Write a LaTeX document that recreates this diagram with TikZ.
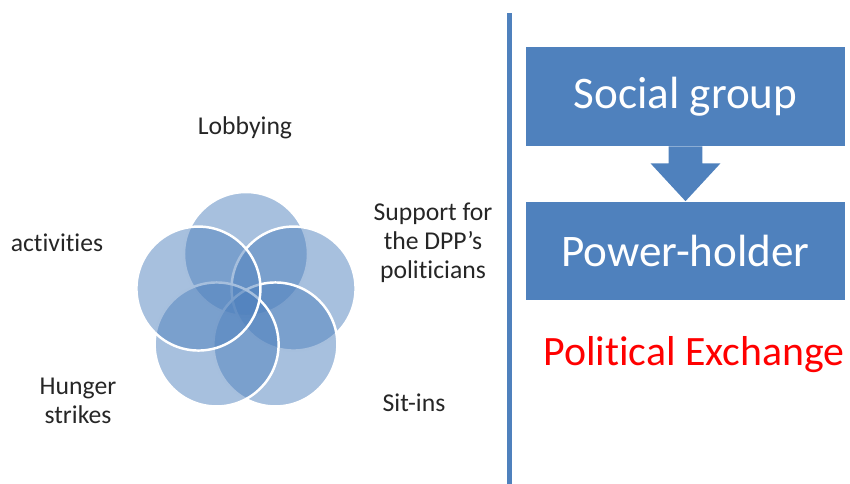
\documentclass[tikz,border=0pt]{standalone}
\usepackage{fontspec}
\setmainfont{Carlito}[Ligatures=NoCommon]
\usetikzlibrary{calc}
\definecolor{officeblue}{HTML}{4F81BD}
\tikzset{
	tag/.style={font=\fontsize{14.6}{16.6}\selectfont, align=center, text=black!85},
	bluebox/.style={fill=officeblue, text=white, minimum width=6.38cm, minimum height=1.98cm, inner sep=0pt, font=\fontsize{25.7}{30}\selectfont},
}
\newcommand{\petal}[1] % angle in degrees
{
	% one circle of the flower, centre on a ring of radius 50
	\draw[white, line width=1.4pt, fill=officeblue, fill opacity=0.5] ({246+50*cos(#1)},{304-50*sin(#1)}) circle (1.24cm);
}

\begin{document}
\begin{tikzpicture}[x=0.02cm, y=-0.02cm]
	% page: 850 x 484 px
	\useasboundingbox (0,0) rectangle (850,484);
	
	% flower of five circles
	\petal{90};
	\petal{18};
	\petal{-54};
	\petal{-126};
	\petal{162};
	
	% labels round the flower
	\node[tag] (lobby) at (245,128) {Lobbying};
	\node[tag] (activ) at (57,243) {activities};
	\node[tag] (support) at (433,243) {Support for\\the DPP’s\\politicians};
	\node[tag] (hunger) at (78,401) {Hunger\\strikes};
	\node[tag] (sitins) at (414,403) {Sit-ins};
	
	% divider
	\draw[officeblue, line width=0.1cm] (509,13) -- (509,484);
	
	% exchange
	\node[bluebox] (social) at (685.5,96.5) {Social group};
	\node[bluebox] (power) at (685.5,251) {Power-holder};
	\fill[officeblue] ([xshift=-0.34cm]social.south) -- ++(0,-0.34cm) -- ++(-0.36cm,0)
		-- (power.north)
		-- ([xshift=0.7cm,yshift=-0.34cm]social.south) -- ++(-0.36cm,0) -- ([xshift=0.34cm]social.south) -- cycle;
	\node[text=red, font=\fontsize{23.8}{28}\selectfont] (exch) at (694,355) {Political Exchange};
\end{tikzpicture}
\end{document}
